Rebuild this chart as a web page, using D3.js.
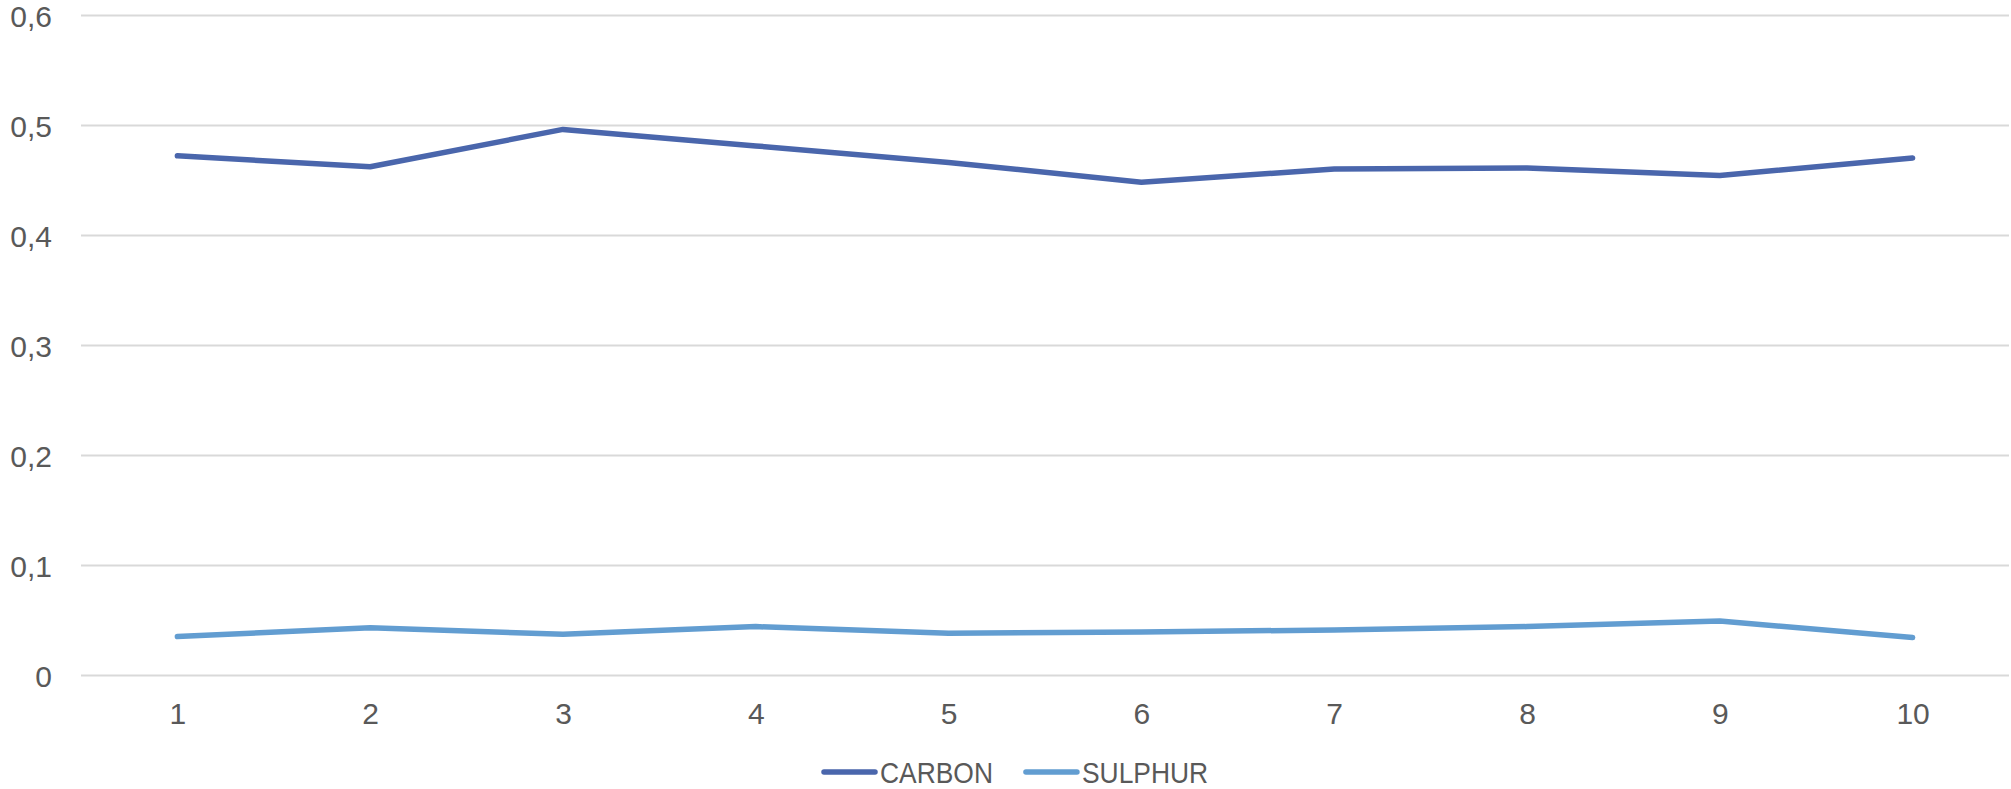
<!DOCTYPE html>
<html>
<head>
<meta charset="utf-8">
<script src="https://cdn.jsdelivr.net/npm/d3@7"></script>
<style>
  html, body { margin: 0; padding: 0; background: #ffffff; }
  svg { display: block; }
</style>
</head>
<body>
<svg id="chart" width="2011" height="789"></svg>
<script>
// Sample numbers along the x axis
const categories = ["1", "2", "3", "4", "5", "6", "7", "8", "9", "10"];

// Measured content per sample
const carbon  = [0.472, 0.462, 0.496, 0.481, 0.466, 0.448, 0.460, 0.461, 0.454, 0.470];
const sulphur = [0.035, 0.043, 0.037, 0.044, 0.038, 0.039, 0.041, 0.044, 0.049, 0.034];

// Value axis ticks and their labels (decimal comma)
const yTicks = [0, 0.1, 0.2, 0.3, 0.4, 0.5, 0.6];
const yTickLabels = ["0", "0,1", "0,2", "0,3", "0,4", "0,5", "0,6"];

const seriesNames = ["CARBON", "SULPHUR"];
const seriesColors = ["#4A66AC", "#629DD1"];

const svg = d3.select("#chart");
const plot = { left: 81, right: 2009, top: 15, bottom: 675 };
const textColor = "#595959";
const gridColor = "#D9D9D9";
const tickFont = "'Liberation Sans', Arial, sans-serif";
const legendFont = "'Liberation Sans', Arial, sans-serif";
// condensed look for the legend captions
const legendCondense = 0.88;

const x = d3.scalePoint().domain(categories).range([plot.left, plot.right]).padding(0.5);
const y = d3.scaleLinear().domain([0, 0.6]).range([plot.bottom, plot.top]);

// Horizontal gridlines with value labels
const yAxis = svg.append("g")
  .attr("transform", `translate(${plot.left},0)`)
  .call(d3.axisLeft(y)
    .tickValues(yTicks)
    .tickFormat((d, i) => yTickLabels[i])
    .tickSize(-(plot.right - plot.left))
    .tickPadding(29));
yAxis.select(".domain").remove();
yAxis.selectAll(".tick line").attr("stroke", gridColor).attr("stroke-width", 2);
yAxis.selectAll(".tick text")
  .attr("fill", textColor)
  .attr("dy", "0.37em")
  .style("font-family", tickFont)
  .style("font-size", "30px");

// Category axis labels
const xAxis = svg.append("g")
  .attr("transform", `translate(0,${plot.bottom})`)
  .call(d3.axisBottom(x).tickSize(0).tickPadding(28));
xAxis.select(".domain").remove();
xAxis.selectAll(".tick text")
  .attr("fill", textColor)
  .style("font-family", tickFont)
  .style("font-size", "30px");

// Series lines
const line = d3.line()
  .x((d, i) => x(categories[i]))
  .y(d => y(d));

[carbon, sulphur].forEach((values, k) => {
  svg.append("path")
    .datum(values)
    .attr("d", line)
    .attr("fill", "none")
    .attr("stroke", seriesColors[k])
    .attr("stroke-width", 5.5)
    .attr("stroke-linejoin", "round")
    .attr("stroke-linecap", "round");
});

// Legend
const legend = svg.append("g").attr("transform", "translate(822,772)");
let cursor = 0;
seriesNames.forEach((name, k) => {
  legend.append("line")
    .attr("x1", cursor + 2).attr("x2", cursor + 53)
    .attr("y1", 0).attr("y2", 0)
    .attr("stroke", seriesColors[k])
    .attr("stroke-width", 5.5)
    .attr("stroke-linecap", "round");
  const t = legend.append("text")
    .attr("x", cursor + 58)
    .attr("y", 10.5)
    .attr("fill", textColor)
    .style("font-family", legendFont)
    .style("font-size", "30px")
    .text(name);
  const w = t.node().getComputedTextLength() * legendCondense;
  t.attr("textLength", w).attr("lengthAdjust", "spacingAndGlyphs");
  cursor += 58 + w + 31;
});
</script>
</body>
</html>
